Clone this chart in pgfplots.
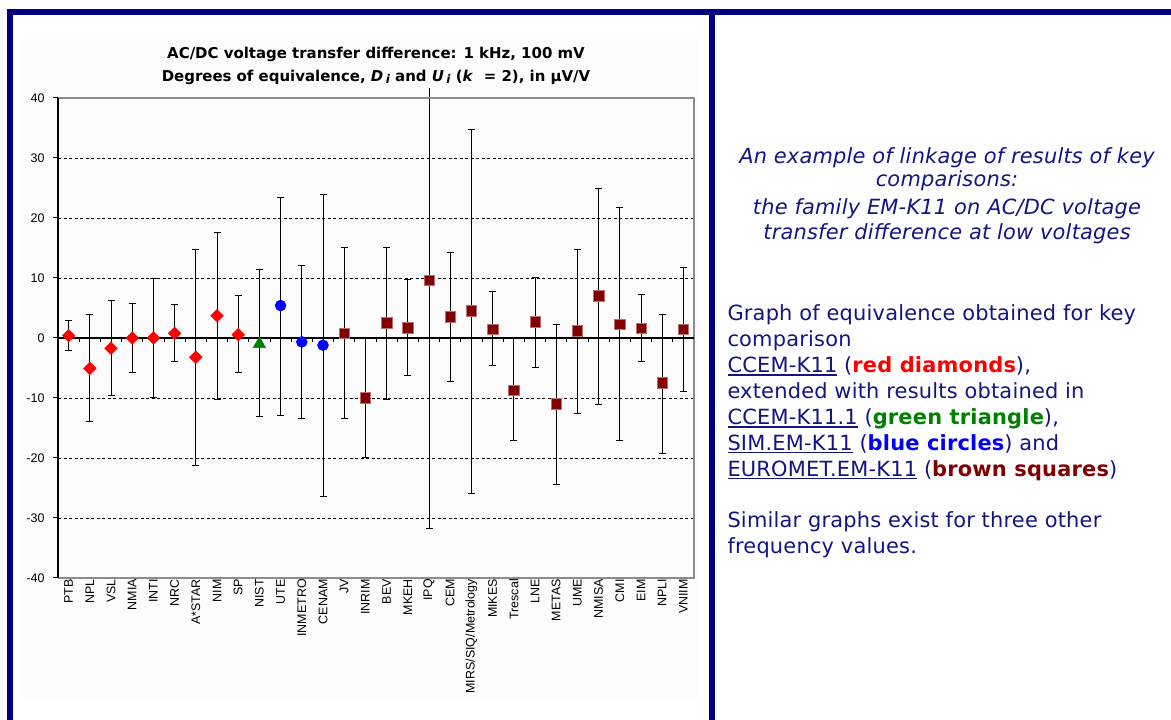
\documentclass[border=0pt]{standalone}
\usepackage{fontspec}
\usepackage{pgfplots}
\pgfplotsset{compat=1.18}
\usepackage{pgfplotstable}
\setmainfont{DejaVu Sans}
\newfontfamily\arialf{Liberation Sans}
\newfontfamily\vfont[LetterSpace=1]{DejaVu Sans}
\newfontfamily\tfont{DejaVu Sans}
\definecolor{navyb}{RGB}{0,0,128}
\definecolor{navyt}{RGB}{20,20,130}
\definecolor{mred}{RGB}{255,0,0}
\definecolor{mgreen}{RGB}{0,128,0}
\definecolor{mblue}{RGB}{0,0,255}
\definecolor{mbrown}{RGB}{128,0,0}
\definecolor{brownedge}{RGB}{190,110,110}
\definecolor{chartbg}{RGB}{251,252,251}
\definecolor{framegray}{RGB}{140,140,140}

\pgfplotstableread{
x y ep em
0 0.40 2.45 2.50
1 -5.07 8.92 8.93
2 -1.70 7.90 7.95
3 0.00 5.75 5.80
4 0.00 9.90 10.00
5 0.78 4.77 4.78
6 -3.20 17.90 18.00
7 3.70 13.90 13.90
8 0.55 6.45 6.35
}\redtab

\pgfplotstableread{
x y ep em
9 -1.00 12.40 12.15
}\greentab

\pgfplotstableread{
x y ep em
10 5.40 18.00 18.30
11 -0.65 12.65 12.85
12 -1.20 25.10 25.20
}\bluetab

\pgfplotstableread{
x y ep em
13 0.80 14.35 14.30
14 -10.00 10.10 9.95
15 2.50 12.65 12.70
16 1.67 8.08 7.97
17 9.58 0.00 41.28
18 3.55 10.75 10.85
19 4.50 30.20 30.40
20 1.45 6.25 6.05
21 -8.75 8.60 8.35
22 2.70 7.40 7.55
23 -11.00 13.20 13.35
24 1.20 13.50 13.75
25 7.00 17.90 18.10
26 2.25 19.45 19.35
27 1.65 5.55 5.65
28 -7.50 11.40 11.70
29 1.45 10.35 10.40
}\browntab

\newcommand\ul[1]{\setbox0\hbox{#1}\rlap{\rule[-3.2bp]{\wd0}{1.4bp}}\box0\relax}

\pgfplotsset{
  ebars/.style={
    /pgfplots/error bars/y dir=both,
    /pgfplots/error bars/y explicit,
    /pgfplots/error bars/error bar style={black, line width=1bp},
    /pgfplots/error bars/error mark options={rotate=90, black, line width=1bp, mark size=3.5bp}},
}

\begin{document}
\begin{tikzpicture}[x=1bp,y=1bp]
\fill[white] (0,0) rectangle (1171,720);
\fill[chartbg] (22,21) rectangle (699,682);
\fill[navyb] (7,705) rectangle (1171,711);
\fill[navyb] (7,0) rectangle (12.5,711);
\fill[navyb] (709.3,0) rectangle (715,711);

\begin{axis}[
  at={(58bp,142bp)}, anchor=south west,
  scale only axis, width=636bp, height=480bp,
  xmin=-0.5, xmax=29.5, ymin=-40, ymax=40,
  clip=false,
  axis line style={draw=none},
  ytick={-40,-30,...,40},
  xtick={0,...,29},
  xticklabels={PTB,NPL,VSL,NMIA,INTI,NRC,A*STAR,NIM,SP,NIST,UTE,INMETRO,CENAM,JV,INRIM,BEV,MKEH,IPQ,CEM,MIRS/SIQ/Metrology,MIKES,Trescal,LNE,METAS,UME,NMISA,CMI,EIM,NPLI,VNIIM},
  x tick style={draw=none},
  y tick style={black, line width=1bp},
  tick align=outside,
  major tick length=5bp,
  ytick pos=left, xtick pos=bottom,
  xticklabel shift=-4bp,
  xticklabel style={rotate=90, anchor=east, font=\arialf\fontsize{12.5}{13}\selectfont, inner sep=0bp},
  yticklabel style={font=\arialf\fontsize{12.5}{13}\selectfont, xshift=-5bp},
  /pgf/number format/assume math mode=true,
  ymajorgrids=true,
  major grid style={black, line width=0.9bp, dash pattern=on 3bp off 2.5bp},
]
% IPQ upper error extends beyond the plot
\addplot[draw=none, mark=none, forget plot,
  error bars/.cd, y dir=plus, y explicit, error mark=none,
  error bar style={black, line width=1bp}]
  coordinates {(17,9.58) +- (0,32.1)};

\addplot[only marks, mark=square*, mark size=4.5bp,
  mark options={rotate=45, fill=mred, draw=mred, line width=0.4bp}, ebars]
  table[x=x, y=y, y error plus=ep, y error minus=em]{\redtab};
\addplot[only marks, mark=triangle*, mark size=7.2bp,
  mark options={fill=mgreen, draw=mgreen, line width=0.4bp}, ebars]
  table[x=x, y=y, y error plus=ep, y error minus=em]{\greentab};
\addplot[only marks, mark=*, mark size=5.5bp,
  mark options={fill=mblue, draw=mblue, line width=0.4bp}, ebars]
  table[x=x, y=y, y error plus=ep, y error minus=em]{\bluetab};
\addplot[only marks, mark=square*, mark size=5.2bp,
  mark options={fill=mbrown, draw=brownedge, line width=0.6bp}, ebars]
  table[x=x, y=y, y error plus=ep, y error minus=em]{\browntab};

\draw[framegray, line width=1.2bp] (rel axis cs:0,1) -- (rel axis cs:1,1) -- (rel axis cs:1,0) -- (rel axis cs:0,0);
\draw[black, line width=1.2bp] (rel axis cs:0,0) -- (rel axis cs:0,1);
\draw[black, line width=1.2bp] (axis cs:-0.5,0) -- (axis cs:29.5,0);
\pgfplotsinvokeforeach{0,...,28}{\draw[black, line width=1bp] (axis cs:#1.5,0) -- ++(0pt,-4bp);}
\end{axis}

\node[anchor=base, font=\tfont\bfseries\fontsize{15}{18}\selectfont] at (376,661)
  {AC/DC voltage transfer difference: 1 kHz, 100 mV};
\node[anchor=base, font=\tfont\bfseries\fontsize{15}{18}\selectfont] at (376,638)
  {Degrees of equivalence, \textit{D}\,\raisebox{-2bp}{\fontsize{12}{13}\selectfont\textit{i}} and \textit{U}\,\raisebox{-2bp}{\fontsize{12}{13}\selectfont\textit{i}} (\textit{k}\ \ = 2), in μV/V};

\begin{scope}[every node/.style={anchor=base, text=navyt, font=\vfont\itshape\fontsize{21}{24}\selectfont, inner sep=0pt}]
\node at (947,556.7) {An example of linkage of results of key};
\node at (947,533.3) {comparisons:};
\node at (947,505) {the family EM-K11 on AC/DC voltage};
\node at (947,480) {transfer difference at low voltages};
\end{scope}

\begin{scope}[every node/.style={anchor=base west, text=navyt, font=\vfont\fontsize{21}{24}\selectfont, inner sep=0pt}]
\node at (727.3,399) {Graph of equivalence obtained for key};
\node at (727.3,373.15) {comparison};
\node at (727.3,347.3) {\ul{CCEM-K11} ({\bfseries\color{mred}red diamonds}),};
\node at (727.3,321.45) {extended with results obtained in};
\node at (727.3,295.6) {\ul{CCEM-K11.1} ({\bfseries\color{mgreen}green triangle}),};
\node at (727.3,269.75) {\ul{SIM.EM-K11} ({\bfseries\color{mblue}blue circles}) and};
\node at (727.3,243.9) {\ul{EUROMET.EM-K11} ({\bfseries\color{mbrown}brown squares})};
\node at (727.3,192.2) {Similar graphs exist for three other};
\node at (727.3,166.35) {frequency values.};
\end{scope}
\end{tikzpicture}
\end{document}
